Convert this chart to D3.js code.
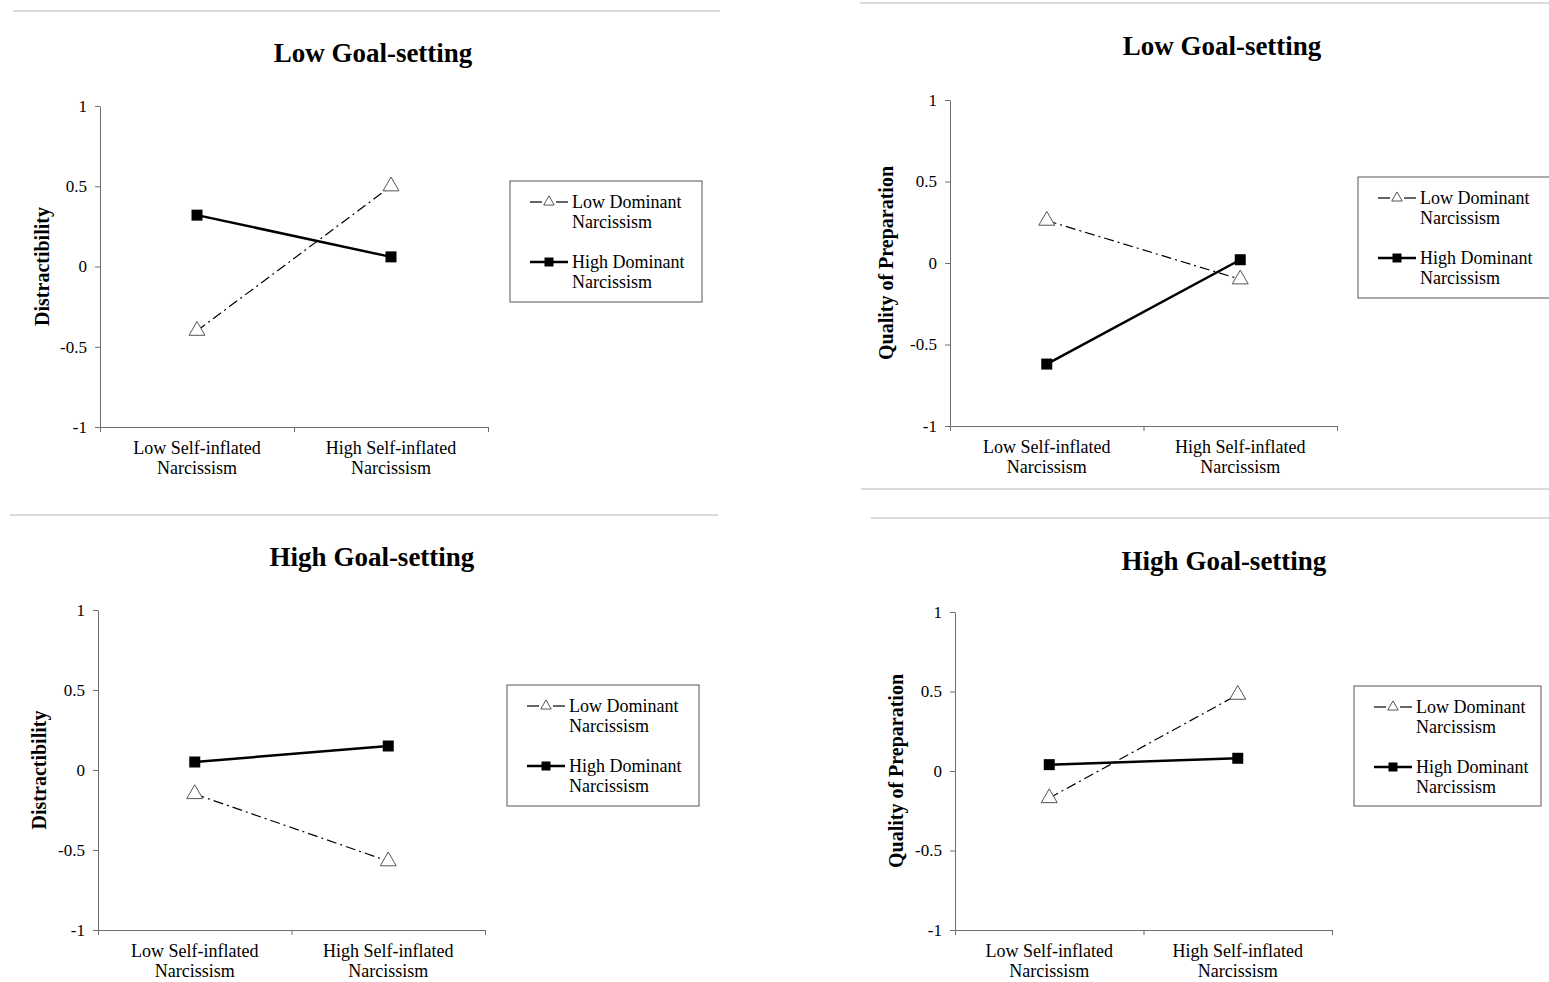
<!DOCTYPE html>
<html>
<head>
<meta charset="utf-8">
<script src="https://cdn.jsdelivr.net/npm/d3@7"></script>
<style>
  html, body { margin: 0; padding: 0; background: #fff; }
  svg { display: block; }
  text { font-family: "Liberation Serif", "Times New Roman", serif; fill: #000; }
</style>
</head>
<body>
<svg id="chart" width="1549" height="982"></svg>
<script>
// ---- data ----
const categories = ["Low Self-inflated Narcissism", "High Self-inflated Narcissism"];
const categoryLines = [["Low Self-inflated", "Narcissism"], ["High Self-inflated", "Narcissism"]];
const seriesNames = ["Low Dominant Narcissism", "High Dominant Narcissism"];
const seriesLegendLines = [["Low Dominant", "Narcissism"], ["High Dominant", "Narcissism"]];
const panelTitles = ["Low Goal-setting", "Low Goal-setting", "High Goal-setting", "High Goal-setting"];
const yLabels = ["Distractibility", "Quality of Preparation", "Distractibility", "Quality of Preparation"];
const lowDominant = [[-0.40, 0.50], [0.26, -0.10], [-0.15, -0.57], [-0.17, 0.48]];
const highDominant = [[0.32, 0.06], [-0.62, 0.02], [0.05, 0.15], [0.04, 0.08]];
const yTicks = [-1, -0.5, 0, 0.5, 1];

// ---- layout ----
const layouts = [
  {left: 100, right: 488, top: 106, bottom: 427, titleX: 373, titleY: 62, ylabX: 44, legend: {x: 510, y: 181, w: 192, h: 121}},
  {left: 950, right: 1337, top: 100, bottom: 426, titleX: 1222, titleY: 55, ylabX: 888, legend: {x: 1358, y: 177, w: 200, h: 121}},
  {left: 98, right: 485, top: 610, bottom: 930, titleX: 372, titleY: 566, ylabX: 41, legend: {x: 507, y: 685, w: 192, h: 121}},
  {left: 955, right: 1332, top: 612, bottom: 930, titleX: 1224, titleY: 570, ylabX: 898, legend: {x: 1354, y: 686, w: 187, h: 120}}
];
const separators = [
  {x1: 13, x2: 720, y: 11},
  {x1: 860, x2: 1549, y: 3},
  {x1: 861, x2: 1549, y: 489},
  {x1: 10, x2: 718, y: 515},
  {x1: 871, x2: 1549, y: 518}
];

const svg = d3.select("#chart");
const axisColor = "#6e6e6e";

svg.selectAll("line.sep").data(separators).join("line")
  .attr("class", "sep")
  .attr("x1", d => d.x1).attr("x2", d => d.x2)
  .attr("y1", d => d.y).attr("y2", d => d.y)
  .attr("stroke", "#cfcfcf").attr("stroke-width", 1.5);

const triSym = d3.symbol(d3.symbolTriangle, 110);
const sqSym = d3.symbol(d3.symbolSquare, 121);
const triSymLeg = d3.symbol(d3.symbolTriangle, 48);
const sqSymLeg = d3.symbol(d3.symbolSquare, 81);

layouts.forEach((L, i) => {
  const g = svg.append("g");
  const y = d3.scaleLinear().domain([-1, 1]).range([L.bottom, L.top]);
  const x = d3.scalePoint().domain(categories).range([L.left, L.right]).padding(0.5);
  const xEdge = d3.scaleLinear().domain([0, categories.length]).range([L.left, L.right]);

  // title
  g.append("text").attr("x", L.titleX).attr("y", L.titleY)
    .attr("text-anchor", "middle").style("font-size", "27px").style("font-weight", "bold")
    .text(panelTitles[i]);

  // y axis
  const ya = g.append("g").attr("transform", `translate(${L.left},0)`)
    .call(d3.axisLeft(y).tickValues(yTicks).tickFormat(d => String(d)).tickSize(5).tickSizeOuter(0).tickPadding(8));
  ya.attr("font-size", null).attr("font-family", null);
  ya.select(".domain").attr("stroke", axisColor);
  ya.selectAll(".tick line").attr("stroke", axisColor);
  ya.selectAll(".tick text").style("font-size", "17px").style("font-family", "'Liberation Serif', serif").attr("fill", "#000");

  // x axis (ticks at category boundaries)
  const xa = g.append("g").attr("transform", `translate(0,${L.bottom})`)
    .call(d3.axisBottom(xEdge).tickValues(d3.range(categories.length + 1)).tickFormat("").tickSize(5).tickSizeOuter(0));
  xa.select(".domain").attr("stroke", axisColor);
  xa.selectAll(".tick line").attr("stroke", axisColor);

  // category labels
  categories.forEach((c, ci) => {
    const t = g.append("text").attr("text-anchor", "middle").style("font-size", "18px");
    categoryLines[ci].forEach((ln, li) => {
      t.append("tspan").attr("x", x(c)).attr("y", L.bottom + 27 + li * 20).text(ln);
    });
  });

  // y label
  const cy = (L.top + L.bottom) / 2;
  g.append("text").attr("transform", `translate(${L.ylabX},${cy}) rotate(-90)`)
    .attr("text-anchor", "middle").attr("dominant-baseline", "middle")
    .style("font-size", "20px").style("font-weight", "bold").text(yLabels[i]);

  const line = d3.line().x(d => x(d.c)).y(d => y(d.v));
  const lowPts = categories.map((c, ci) => ({c, v: lowDominant[i][ci]}));
  const highPts = categories.map((c, ci) => ({c, v: highDominant[i][ci]}));

  g.append("path").datum(lowPts).attr("d", line)
    .attr("fill", "none").attr("stroke", "#000").attr("stroke-width", 1.2)
    .attr("stroke-dasharray", "10,4,2,4");
  g.append("path").datum(highPts).attr("d", line)
    .attr("fill", "none").attr("stroke", "#000").attr("stroke-width", 2.5);

  g.selectAll("path.tri").data(lowPts).join("path").attr("class", "tri")
    .attr("d", triSym).attr("transform", d => `translate(${x(d.c)},${y(d.v)})`)
    .attr("fill", "#fff").attr("stroke", "#555").attr("stroke-width", 1);
  g.selectAll("path.sq").data(highPts).join("path").attr("class", "sq")
    .attr("d", sqSym).attr("transform", d => `translate(${x(d.c)},${y(d.v)})`)
    .attr("fill", "#000");

  // legend
  const lg = L.legend;
  g.append("rect").attr("x", lg.x).attr("y", lg.y).attr("width", lg.w).attr("height", lg.h)
    .attr("fill", "#fff").attr("stroke", "#555").attr("stroke-width", 1);
  seriesNames.forEach((s, si) => {
    const rowY = lg.y + 21 + si * 60;
    const sx0 = lg.x + 20, sx1 = lg.x + 58, sxm = (sx0 + sx1) / 2;
    if (si === 0) {
      g.append("line").attr("x1", sx0).attr("x2", sxm - 7).attr("y1", rowY).attr("y2", rowY)
        .attr("stroke", "#000").attr("stroke-width", 1.2);
      g.append("line").attr("x1", sxm + 7).attr("x2", sx1).attr("y1", rowY).attr("y2", rowY)
        .attr("stroke", "#000").attr("stroke-width", 1.2);
      g.append("path").attr("d", triSymLeg).attr("transform", `translate(${sxm},${rowY})`)
        .attr("fill", "#fff").attr("stroke", "#555").attr("stroke-width", 1);
    } else {
      g.append("line").attr("x1", sx0).attr("x2", sx1).attr("y1", rowY).attr("y2", rowY)
        .attr("stroke", "#000").attr("stroke-width", 2.5);
      g.append("path").attr("d", sqSymLeg).attr("transform", `translate(${sxm},${rowY})`)
        .attr("fill", "#000");
    }
    const t = g.append("text").style("font-size", "18px");
    seriesLegendLines[si].forEach((ln, li) => {
      t.append("tspan").attr("x", lg.x + 62).attr("y", rowY + 6 + li * 20).text(ln);
    });
  });
});
</script>
</body>
</html>
